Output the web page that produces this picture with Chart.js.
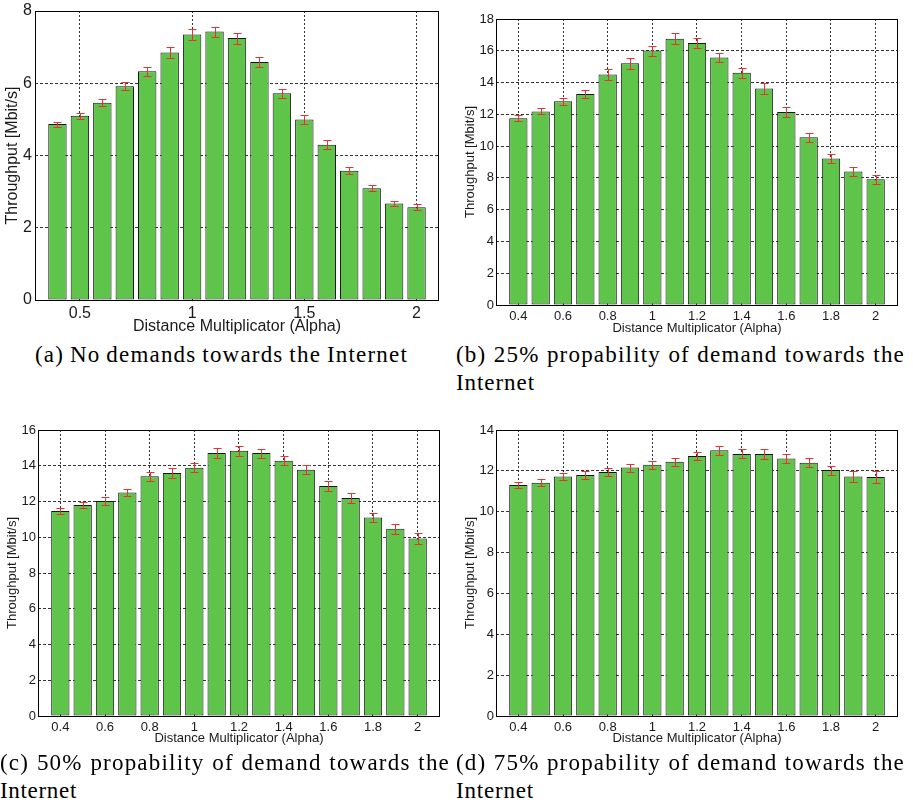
<!DOCTYPE html>
<html><head><meta charset="utf-8">
<script src="https://cdn.jsdelivr.net/npm/chart.js@4"></script>
<style>
html,body{margin:0;padding:0;background:#fff;}
#wrap{position:relative;width:913px;height:808px;overflow:hidden;background:#fff;}
canvas{position:absolute;}
.cap{position:absolute;font-family:"Liberation Serif","Times New Roman",serif;font-size:23px;line-height:23px;white-space:nowrap;color:#000;}
</style></head><body>
<div id="wrap">
<canvas id="ca" style="left:0px;top:0px;width:456px;height:340px" width="456" height="340"></canvas>
<canvas id="cb" style="left:456px;top:0px;width:457px;height:340px" width="457" height="340"></canvas>
<canvas id="cc" style="left:0px;top:400px;width:456px;height:352px" width="456" height="352"></canvas>
<canvas id="cd" style="left:456px;top:400px;width:457px;height:352px" width="457" height="352"></canvas>
</div>
<script>
// ---------- data ----------
const alphas = [0.4,0.5,0.6,0.7,0.8,0.9,1.0,1.1,1.2,1.3,1.4,1.5,1.6,1.7,1.8,1.9,2.0];

const tputA = [4.87,5.10,5.46,5.92,6.33,6.85,7.35,7.43,7.25,6.59,5.72,5.00,4.30,3.58,3.09,2.67,2.57];
const errA  = [0.07,0.08,0.10,0.12,0.13,0.15,0.16,0.14,0.15,0.14,0.12,0.13,0.12,0.09,0.08,0.08,0.08];

const tputB = [11.76,12.18,12.82,13.28,14.50,15.21,16.01,16.76,16.49,15.57,14.62,13.63,12.14,10.55,9.22,8.40,7.92];
const errB  = [0.18,0.19,0.23,0.24,0.34,0.34,0.32,0.34,0.34,0.30,0.32,0.32,0.30,0.27,0.28,0.28,0.28];

const tputC = [11.47,11.81,12.03,12.51,13.41,13.59,13.89,14.71,14.84,14.71,14.28,13.78,12.87,12.20,11.10,10.47,9.93];
const errC  = [0.15,0.18,0.20,0.20,0.25,0.27,0.26,0.28,0.27,0.25,0.25,0.25,0.27,0.27,0.26,0.27,0.29];

const tputD = [11.31,11.42,11.72,11.80,11.95,12.16,12.30,12.45,12.73,13.01,12.83,12.83,12.60,12.40,12.04,11.72,11.70];
const errD  = [0.16,0.16,0.19,0.18,0.20,0.20,0.20,0.20,0.21,0.22,0.22,0.24,0.22,0.23,0.22,0.25,0.28];

const xTicksA = [0.5,1.0,1.5,2.0];
const xTickLabelsA = ['0.5','1','1.5','2'];
const xTicksB = [0.4,0.6,0.8,1.0,1.2,1.4,1.6,1.8,2.0];
const xTickLabelsB = ['0.4','0.6','0.8','1','1.2','1.4','1.6','1.8','2'];

const yMaxA = 8, yMaxB = 18, yMaxC = 16, yMaxD = 14;

const xTitle = 'Distance Multiplicator (Alpha)';
const yTitle = 'Throughput [Mbit/s]';

const captionLines = [
  '(a) No demands towards the Internet',
  '(b) 25% propability of demand towards the', 'Internet',
  '(c) 50% propability of demand towards the', 'Internet',
  '(d) 75% propability of demand towards the', 'Internet'
];

// ---------- style ----------
const FONT = '"Liberation Sans", Arial, Helvetica, sans-serif';
const BAR_FILL = '#5ec44a';
const BAR_EDGE = '#151515';
const ERR_COLOR = '#e8322d';
const GRID_COLOR = 'rgba(0,0,0,0.8)';
const TEXT_COLOR = '#1a1a1a';

const errPlugin = {
  id: 'errbars',
  afterDatasetsDraw(chart) {
    const ctx = chart.ctx;
    const ds = chart.data.datasets[0];
    const meta = chart.getDatasetMeta(0);
    const ys = chart.scales.y;
    ctx.save();
    ctx.strokeStyle = ERR_COLOR;
    ctx.lineWidth = 1;
    meta.data.forEach((bar, i) => {
      const v = ds.data[i].y, e = ds.errorValues[i];
      const x = Math.round(bar.x) + 0.5;
      const y1 = Math.round(ys.getPixelForValue(v + e)) + 0.5;
      const y2 = Math.round(ys.getPixelForValue(v - e)) + 0.5;
      ctx.beginPath();
      ctx.moveTo(x, y1); ctx.lineTo(x, y2);
      ctx.moveTo(x - 4, y1); ctx.lineTo(x + 4, y1);
      ctx.moveTo(x - 4, y2); ctx.lineTo(x + 4, y2);
      ctx.stroke();
    });
    ctx.restore();
  }
};

const framePlugin = {
  id: 'frame',
  afterDatasetsDraw(chart) {
    const ctx = chart.ctx, a = chart.chartArea;
    ctx.save();
    ctx.strokeStyle = '#000';
    ctx.lineWidth = 1;
    ctx.strokeRect(Math.round(a.left) + 0.5, Math.round(a.top) + 0.5,
                   Math.round(a.right - a.left) - 1, Math.round(a.bottom - a.top));
    ctx.restore();
  }
};

function makeChart(id, vals, errs, xTicks, xLabels, yMax, L) {
  return new Chart(document.getElementById(id), {
    type: 'bar',
    data: {
      datasets: [{
        data: alphas.map((x, i) => ({x: x, y: vals[i]})),
        errorValues: errs,
        backgroundColor: BAR_FILL,
        borderColor: BAR_EDGE,
        borderWidth: 1,
        borderSkipped: false,
        barPercentage: 0.82,
        categoryPercentage: 1.0
      }]
    },
    options: {
      responsive: false,
      animation: false,
      events: [],
      layout: {padding: {left: 0, top: L.top, right: L.right, bottom: 0}},
      plugins: {legend: {display: false}, tooltip: {enabled: false}},
      scales: {
        x: {
          type: 'linear', min: 0.3, max: 2.1, offset: false,
          afterBuildTicks: ax => { ax.ticks = xTicks.map(v => ({value: v})); },
          afterFit: ax => { ax.height = L.xH; ax.paddingLeft = 0; ax.paddingRight = 0; },
          grid: {offset: false, color: GRID_COLOR, lineWidth: 1, drawTicks: false},
          border: {display: false, dash: [2, 2]},
          ticks: {
            padding: L.xtp, color: TEXT_COLOR, maxRotation: 0, autoSkip: false,
            font: {family: FONT, size: L.fs},
            callback: (v, i) => xLabels[i]
          },
          title: {display: true, text: xTitle, color: TEXT_COLOR,
                  font: {family: FONT, size: L.fs}, padding: {top: 0, bottom: L.xtb}}
        },
        y: {
          min: 0, max: yMax,
          afterFit: ax => { ax.width = L.left; ax.paddingTop = 0; ax.paddingBottom = 0; },
          grid: {color: GRID_COLOR, lineWidth: 1, drawTicks: false},
          border: {display: false, dash: [3, 2]},
          ticks: {stepSize: 2, padding: L.ytp, color: TEXT_COLOR, font: {family: FONT, size: L.fs}},
          title: {display: true, text: yTitle, color: TEXT_COLOR,
                  font: {family: FONT, size: L.fs}, padding: {top: L.yt, bottom: 0}}
        }
      }
    },
    plugins: [errPlugin, framePlugin]
  });
}

makeChart('ca', tputA, errA, xTicksA, xTickLabelsA, yMaxA,
  {left: 35, top: 11, right: 17, xH: 40, fs: 16, xtp: 4, xtb: 3.4, ytp: 3, yt: 3.4});
makeChart('cb', tputB, errB, xTicksB, xTickLabelsB, yMaxB,
  {left: 40, top: 19, right: 15, xH: 35, fs: 13, xtp: 3.5, xtb: 4.2, ytp: 2, yt: 6.2});
makeChart('cc', tputC, errC, xTicksB, xTickLabelsB, yMaxC,
  {left: 38, top: 30, right: 16, xH: 36, fs: 13, xtp: 3.5, xtb: 6.2, ytp: 2, yt: 4.2});
makeChart('cd', tputD, errD, xTicksB, xTickLabelsB, yMaxD,
  {left: 40, top: 30, right: 15, xH: 36, fs: 13, xtp: 3.5, xtb: 6.2, ytp: 2, yt: 6.2});

// ---------- captions ----------
const FS = 23;
const capPlace = [
  {x: 35,  w: 373, base: 362},
  {x: 456, w: 449, base: 362}, {x: 456, w: 79, base: 390},
  {x: 0,   w: 450, base: 770}, {x: 0,   w: 77, base: 798},
  {x: 456, w: 449, base: 770}, {x: 456, w: 78, base: 798}
];
const wrap = document.getElementById('wrap');
captionLines.forEach((t, i) => {
  const p = capPlace[i];
  const d = document.createElement('div');
  d.className = 'cap';
  d.textContent = t;
  d.style.left = p.x + 'px';
  d.style.top = (p.base - 0.8375 * FS) + 'px';
  wrap.appendChild(d);
  const n = t.length;
  const spaces = (t.match(/ /g) || []).length;
  let ls = 1.2;
  d.style.letterSpacing = ls + 'px';
  let w = d.getBoundingClientRect().width;
  if (spaces > 0) {
    d.style.wordSpacing = ((p.w - w) / spaces) + 'px';
  } else {
    ls = ls + (p.w - w) / n;
    d.style.letterSpacing = ls + 'px';
  }
});
</script>
</body></html>
